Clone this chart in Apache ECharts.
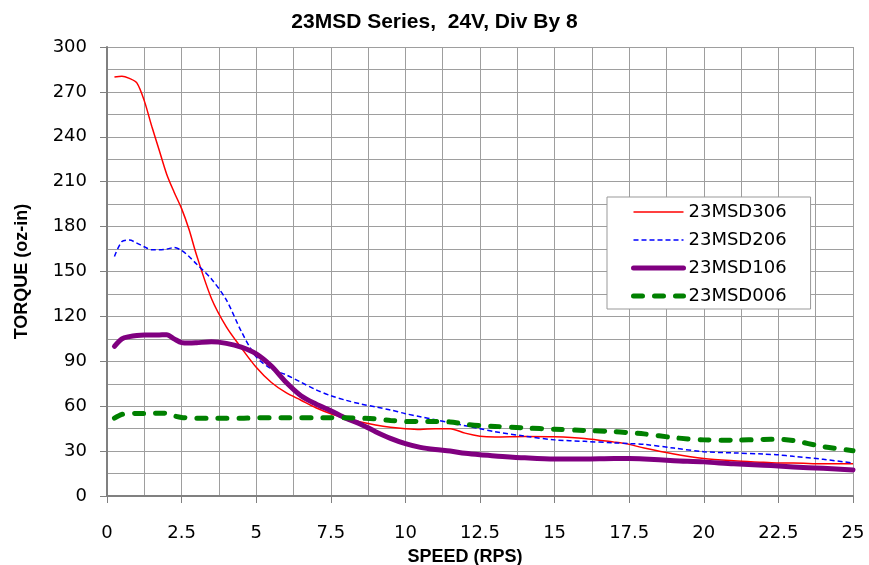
<!DOCTYPE html>
<html>
<head>
<meta charset="utf-8">
<script src="https://cdn.jsdelivr.net/npm/echarts@6/dist/echarts.min.js"></script>
<style>
  html, body { margin: 0; padding: 0; background: #fff; }
  #chart { width: 869px; height: 565px; }
</style>
</head>
<body>
<div id="chart"></div>
<script>
// speed (RPS) shared by all curves
var speeds = [0.25, 0.5, 0.75, 1, 1.25, 1.5, 1.75, 2, 2.25, 2.5, 2.75, 3, 3.5, 4, 4.5, 5, 5.5, 6, 6.5, 7, 7.5, 8, 8.5, 9, 9.5, 10,
              10.5, 11, 11.5, 12, 12.5, 13, 14, 15, 16, 17, 17.5, 18, 19, 20, 21, 22, 22.5, 23, 24, 25];

// torque (oz-in)
var torque306 = [280, 280.5, 279, 276, 264, 247, 231, 215, 203, 192, 178, 161, 132, 113, 99, 86, 76, 69, 64, 59, 55, 52, 49.5, 47.5, 46, 45,
                 44.5, 45, 45, 42, 40, 39.5, 39.8, 39.6, 38.5, 36, 34.5, 32, 28, 25, 23.5, 22.5, 22, 22, 21.5, 21.5];
var torque206 = [160, 170, 171, 169, 166.5, 164.5, 164.5, 165, 166, 164, 160, 155, 145, 131, 110, 93, 85, 81, 76, 71, 67, 64, 61.5, 59.5, 57.5, 55,
                 53, 51, 49, 47, 45, 43, 40, 37.5, 36.5, 35.5, 35, 34.5, 32, 29.6, 28.8, 28, 27.5, 26.5, 24.5, 22];
var torque106 = [100, 105, 106.5, 107.3, 107.6, 107.5, 107.6, 107.8, 105, 102.5, 102.2, 102.4, 103, 102, 99.5, 95, 87, 76, 67, 61.5, 57, 52, 48, 43, 38.5, 35,
                 32.5, 31, 30, 28.5, 27.5, 26.8, 25.5, 24.7, 24.7, 25, 25, 24.7, 23.6, 22.8, 21.5, 20.6, 20, 19.4, 18.5, 17.4];
var torque006 = [52, 54.5, 55, 55.2, 55.2, 55.2, 55.3, 55.2, 53.5, 52.5, 52.2, 52, 52, 52, 52, 52.3, 52.3, 52.3, 52.3, 52.3, 52.3, 52.2, 52, 51.5, 50.5, 49.8,
                 49.7, 49.7, 49.5, 48, 47, 46.5, 45.5, 44.6, 43.8, 43, 42.3, 41.5, 39, 37.5, 37.3, 37.8, 37.9, 37, 33, 30.3];

var names = ['23MSD306', '23MSD206', '23MSD106', '23MSD006'];

function pairs(ys) {
    var out = [];
    for (var i = 0; i < speeds.length; i++) {
        out.push([speeds[i], ys[i]]);
    }
    return out;
}

var gridColor = '#9e9e9e';
var axisColor = '#808080';

var myChart = echarts.init(document.getElementById('chart'), null, { renderer: 'canvas' });

var option = {
    backgroundColor: '#ffffff',
    animation: false,
    title: {
        text: '23MSD Series,  24V, Div By 8',
        left: 'center',
        top: 12,
        padding: 0,
        textStyle: {
            fontFamily: 'Liberation Sans',
            fontWeight: 'bold',
            fontSize: 21,
            color: '#000'
        }
    },
    legend: {
        orient: 'vertical',
        left: 607,
        top: 197,
        padding: [6, 24, 4, 24],
        itemWidth: 50,
        itemHeight: 14,
        itemGap: 10,
        backgroundColor: '#ffffff',
        borderColor: '#999999',
        borderWidth: 1,
        itemStyle: { opacity: 0 },
        textStyle: {
            fontFamily: 'DejaVu Sans',
            fontSize: 18,
            lineHeight: 18,
            color: '#000',
            padding: [0, 0, 0, 0]
        },
        data: [
            { name: names[0], lineStyle: { width: 1.5 } },
            { name: names[1], lineStyle: { width: 1.5 } },
            { name: names[2], lineStyle: { width: 5 } },
            { name: names[3], lineStyle: { width: 5 } }
        ]
    },
    grid: {
        left: 107,
        right: 16,
        top: 47,
        bottom: 69,
        outerBoundsMode: 'none'
    },
    xAxis: {
        type: 'value',
        min: 0,
        max: 25,
        interval: 2.5,
        name: 'SPEED (RPS)',
        nameLocation: 'middle',
        nameGap: 52,
        nameTextStyle: {
            fontFamily: 'Liberation Sans',
            fontWeight: 'bold',
            fontSize: 18,
            color: '#000',
            padding: [0, 30, 0, 0]
        },
        axisLine: { show: true, lineStyle: { color: axisColor, width: 2 } },
        axisTick: { show: true, length: 7, lineStyle: { color: axisColor, width: 1 } },
        axisLabel: {
            fontFamily: 'DejaVu Sans',
            fontSize: 18,
            color: '#000',
            margin: 28
        },
        splitLine: { show: true, lineStyle: { color: gridColor, width: 1 } },
        minorTick: { show: false, splitNumber: 2 },
        minorSplitLine: { show: true, lineStyle: { color: gridColor, width: 1 } }
    },
    yAxis: {
        type: 'value',
        min: 0,
        max: 300,
        interval: 30,
        name: 'TORQUE (oz-in)',
        nameLocation: 'middle',
        nameGap: 76,
        nameTextStyle: {
            fontFamily: 'Liberation Sans',
            fontWeight: 'bold',
            fontSize: 18,
            color: '#000'
        },
        axisLine: { show: true, lineStyle: { color: axisColor, width: 2 } },
        axisTick: { show: true, length: 7, lineStyle: { color: axisColor, width: 1 } },
        axisLabel: {
            fontFamily: 'DejaVu Sans',
            fontSize: 18,
            color: '#000',
            margin: 20
        },
        splitLine: { show: true, lineStyle: { color: gridColor, width: 1 } },
        minorTick: { show: false, splitNumber: 2 },
        minorSplitLine: { show: true, lineStyle: { color: gridColor, width: 1 } }
    },
    series: [
        {
            name: names[0],
            type: 'line',
            smooth: 0.3,
            symbol: 'none',
            color: '#ff0000',
            lineStyle: { color: '#ff0000', width: 1.5 },
            data: pairs(torque306)
        },
        {
            name: names[1],
            type: 'line',
            smooth: 0.3,
            symbol: 'none',
            color: '#0000ff',
            lineStyle: { color: '#0000ff', width: 1.5, type: [5, 3] },
            data: pairs(torque206)
        },
        {
            name: names[2],
            type: 'line',
            smooth: 0.3,
            symbol: 'none',
            color: '#800080',
            lineStyle: { color: '#800080', width: 5, cap: 'round', join: 'round' },
            data: pairs(torque106)
        },
        {
            name: names[3],
            type: 'line',
            smooth: 0.3,
            symbol: 'none',
            color: '#008000',
            lineStyle: { color: '#008000', width: 5, type: [9, 12], cap: 'round' },
            data: pairs(torque006)
        }
    ]
};

myChart.setOption(option);
</script>
</body>
</html>
